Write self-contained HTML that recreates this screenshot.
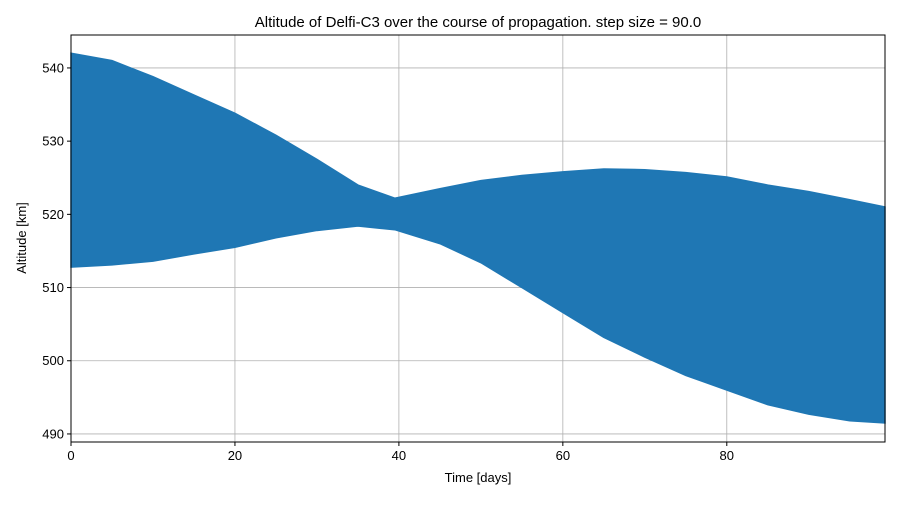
<!DOCTYPE html>
<html><head><meta charset="utf-8"><style>
body{margin:0;background:#fff;font-family:"Liberation Sans",sans-serif}
svg text{font-family:"Liberation Sans",sans-serif;fill:#000}
</style></head><body>
<svg id="chart" width="900" height="500">
<text x="478" y="27" font-size="15" text-anchor="middle">Altitude of Delfi-C3 over the course of propagation. step size = 90.0</text>
<text x="478" y="482" font-size="13" text-anchor="middle">Time [days]</text>
<text x="26" y="238" font-size="13" text-anchor="middle" transform="rotate(-90 26 238)">Altitude [km]</text>
<g id="grid"></g><g id="series"></g><g id="axes"></g>
</svg>
<script>
const days=[0,5,10,15,20,25,30,35,39.5,45,50,55,60,65,70,75,80,85,90,95,99.3];
const upper=[542,541,538.8,536.3,533.8,530.8,527.5,524,522.2,523.5,524.6,525.3,525.8,526.2,526.1,525.7,525.1,524,523.1,522,521];
const lower=[512.8,513.1,513.6,514.6,515.5,516.8,517.8,518.4,517.9,516,513.4,510,506.6,503.2,500.5,498,496,494,492.7,491.8,491.5];
const xTicks=[0,20,40,60,80];
const yTicks=[490,500,510,520,530,540];
const L=71,R=885,T=35,B=442,xMin=0,xMax=99.3,yMin=488.9,yMax=544.5;
const sx=v=>L+(v-xMin)/(xMax-xMin)*(R-L);
const sy=v=>B-(v-yMin)/(yMax-yMin)*(B-T);
const NS="http://www.w3.org/2000/svg";
function mk(tag,attrs,parent){const e=document.createElementNS(NS,tag);for(const k in attrs)e.setAttribute(k,attrs[k]);parent.appendChild(e);return e;}
const grid=document.getElementById('grid'),axes=document.getElementById('axes'),ser=document.getElementById('series');
xTicks.forEach(t=>{
 const g=mk('line',{x1:sx(t),x2:sx(t),y1:T,y2:B,stroke:'#b0b0b0','stroke-width':0.8},grid);
 
 
 mk('line',{x1:sx(t),x2:sx(t),y1:B,y2:B+4,stroke:'#000'},axes);
 const tx=mk('text',{x:sx(t),y:B+18,'font-size':13,'text-anchor':'middle'},axes);tx.textContent=t;
 
 
});
yTicks.forEach(t=>{
 const g=mk('line',{x1:L,x2:R,y1:sy(t),y2:sy(t),stroke:'#b0b0b0','stroke-width':0.8},grid);
 
 
 mk('line',{x1:L-4,x2:L,y1:sy(t),y2:sy(t),stroke:'#000'},axes);
 const tx=mk('text',{x:L-7,y:sy(t)+4.5,'font-size':13,'text-anchor':'end'},axes);tx.textContent=t;
 
 
});
let d='M'+days.map((v,i)=>sx(v)+','+sy(upper[i])).join('L');
for(let i=days.length-1;i>=0;i--)d+='L'+sx(days[i])+','+sy(lower[i]);
const p=mk('path',{d:d+'Z',fill:'#1f77b4',stroke:'#1f77b4','stroke-width':1.5},ser);


const fr=mk('rect',{x:L,y:T,width:R-L,height:B-T,fill:'none',stroke:'#000','stroke-width':1},axes);


</script>
</body></html>
